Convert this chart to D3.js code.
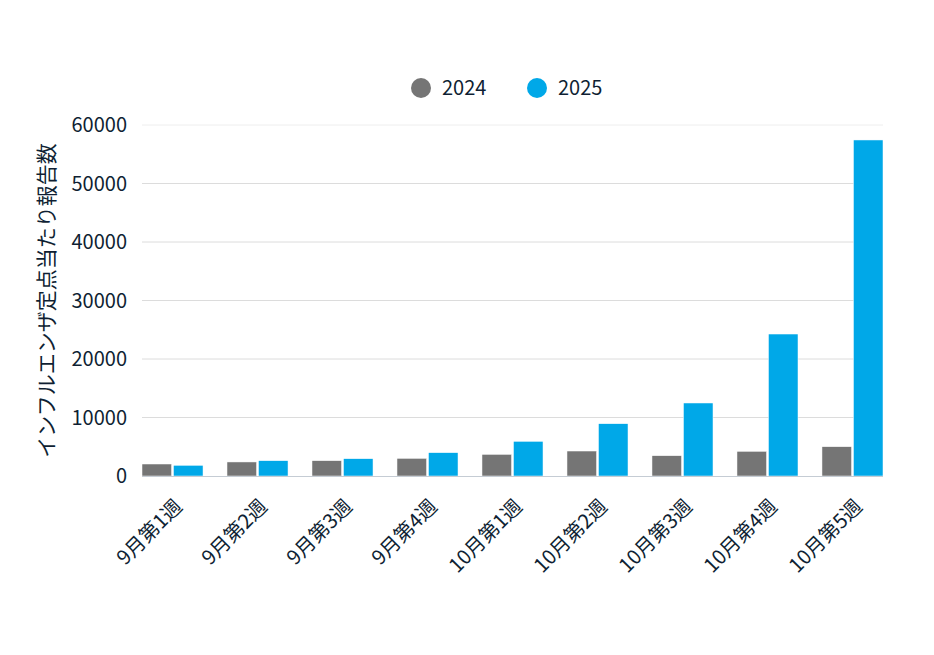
<!DOCTYPE html>
<html>
<head>
<meta charset="utf-8">
<script src="https://cdn.jsdelivr.net/npm/d3@7"></script>
<style>
  body { margin: 0; background: #fff; }
  text { font-family: "Noto Sans CJK JP", "Noto Sans", sans-serif; fill: #0f1f33; }
</style>
</head>
<body>
<div id="chart"></div>
<script>
// data
var weeks = ["9月第1週", "9月第2週", "9月第3週", "9月第4週", "10月第1週", "10月第2週", "10月第3週", "10月第4週", "10月第5週"];
var seriesNames = ["2024", "2025"];
var values2024 = [2050, 2400, 2620, 3020, 3700, 4270, 3470, 4220, 5010];
var values2025 = [1830, 2620, 2960, 3990, 5930, 8940, 12480, 24270, 57440];
var yTicks = [0, 10000, 20000, 30000, 40000, 50000, 60000];
var colors = ["#757575", "#00a8e8"];

var width = 934, height = 655;
// plot box (note: "top" is reserved on window, so use prefixed names)
var plotLeft = 142, plotRight = 883, plotTop = 125, plotBottom = 476;
var FONT = 20; // base font size, px

var svg = d3.select("#chart").append("svg")
    .attr("width", width)
    .attr("height", height);

var x0 = d3.scaleBand()
    .domain(weeks)
    .range([plotLeft, plotRight])
    .paddingInner(0.282)
    .paddingOuter(0);

var x1 = d3.scaleBand()
    .domain(seriesNames)
    .range([0, x0.bandwidth()])
    .paddingInner(0.06);

var y = d3.scaleLinear()
    .domain([0, 60000])
    .range([plotBottom, plotTop]);

// gridlines
svg.append("g")
  .selectAll("line")
  .data(yTicks.filter(d => d > 0))
  .enter().append("line")
    .attr("x1", plotLeft)
    .attr("x2", plotRight)
    .attr("y1", d => y(d))
    .attr("y2", d => y(d))
    .attr("stroke", d => d == 60000 ? "#eeeeee" : "#dcdcdc")
    .attr("stroke-width", 1);

// y tick labels
svg.append("g")
  .selectAll("text")
  .data(yTicks)
  .enter().append("text")
    .attr("x", 127)
    .attr("y", d => y(d))
    .attr("dy", "0.36em")
    .attr("text-anchor", "end")
    .style("font-size", FONT + "px")
    .text(d => d);

// bars
var rows = weeks.map((w, i) => ({ week: w, vals: [values2024[i], values2025[i]] }));

var groups = svg.append("g")
  .selectAll("g")
  .data(rows)
  .enter().append("g")
    .attr("transform", d => `translate(${x0(d.week)},0)`);

groups.selectAll("rect")
  .data(d => d.vals.map((v, j) => ({ key: seriesNames[j], value: v, idx: j })))
  .enter().append("rect")
    .attr("x", d => x1(d.key))
    .attr("y", d => y(d.value))
    .attr("width", x1.bandwidth())
    .attr("height", d => y(0) - y(d.value))
    .attr("fill", d => colors[d.idx])
    .attr("stroke", "#ffffff")
    .attr("stroke-width", 0.5);

// baseline
svg.append("line")
    .attr("x1", plotLeft)
    .attr("x2", plotRight)
    .attr("y1", y(0) + 0.5)
    .attr("y2", y(0) + 0.5)
    .attr("stroke", "#c5ccd4")
    .attr("stroke-width", 1);

// x labels, rotated
svg.append("g")
  .selectAll("text")
  .data(weeks)
  .enter().append("text")
    .attr("transform", d => `translate(${x0(d) + x0.bandwidth() / 2 + 1},${plotBottom + 22}) rotate(-45)`)
    .attr("text-anchor", "end")
    .attr("dy", "0.7em")
    .style("font-size", FONT + "px")
    .text(d => d);

// y axis title
svg.append("text")
    .attr("transform", `translate(47,${(plotTop + plotBottom) / 2}) rotate(-90)`)
    .attr("text-anchor", "middle")
    .attr("dy", "0.35em")
    .style("font-size", "21px")
    .text("インフルエンザ定点当たり報告数");

// legend
var legend = svg.append("g")
  .selectAll("g")
  .data(seriesNames)
  .enter().append("g")
    .attr("transform", (d, i) => `translate(${421 + i * 116},88)`);

legend.append("circle")
    .attr("r", 10)
    .attr("fill", (d, i) => colors[i]);

legend.append("text")
    .attr("x", 21)
    .attr("dy", "0.36em")
    .style("font-size", FONT + "px")
    .text(d => d);
</script>
</body>
</html>
